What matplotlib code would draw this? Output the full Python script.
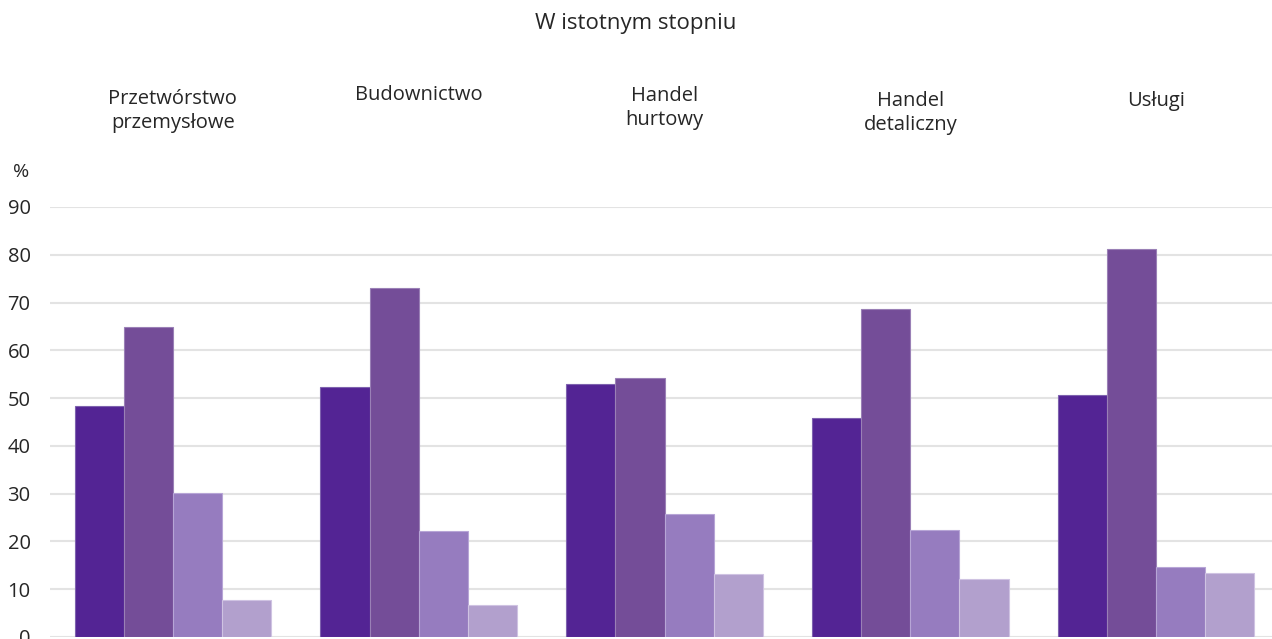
import matplotlib
matplotlib.use("Agg")
import matplotlib.pyplot as plt
import matplotlib.transforms as mtransforms
import numpy as np

plt.rcParams['font.family'] = ['Open Sans', 'DejaVu Sans']

title = "W istotnym stopniu"
categories = ["Przetwórstwo\nprzemysłowe", "Budownictwo", "Handel\nhurtowy", "Handel\ndetaliczny", "Usługi"]
series1 = [48.3, 52.3, 52.9, 45.9, 50.6]
series2 = [64.9, 73.0, 54.2, 68.6, 81.3]
series3 = [30.2, 22.1, 25.8, 22.4, 14.7]
series4 = [7.7, 6.8, 13.1, 12.1, 13.5]
yticks = [0, 10, 20, 30, 40, 50, 60, 70, 80, 90]

colors = ["#532494", "#744D98", "#967CBF", "#B2A0CD"]
edgecolors = ["#7E62AE", "#9A80B6", "#B7A5D6", "#CFC3E2"]
label_y_px = [111, 95, 108, 113, 101]  # vertical centre of each category caption (px from top)

W, H = 1272, 639
fig = plt.figure(figsize=(W / 100, H / 100), dpi=100)
ax_left, ax_right, ax_top, ax_bottom = 50, 1279, 207, 637
ax = fig.add_axes([ax_left / W, (H - ax_bottom) / H, (ax_right - ax_left) / W, (ax_bottom - ax_top) / H])

x = np.arange(len(categories))
n = 4
bw = 0.2
for i, (vals, c, ec) in enumerate(zip([series1, series2, series3, series4], colors, edgecolors)):
    ax.bar(x + (i - (n - 1) / 2) * bw, vals, width=bw, color=c, edgecolor=ec, linewidth=0.8, zorder=3)

ax.set_xlim(-0.5, len(categories) - 0.5)
ax.set_ylim(0, 90)
ax.set_yticks(yticks)
ax.set_xticks([])
ax.grid(axis='y', color='#E3E3E3', linewidth=1.5, zorder=0)
for s in ax.spines.values():
    s.set_visible(False)
ax.tick_params(axis='y', length=0, pad=14, labelsize=14.5, labelcolor='#262626')

trans = mtransforms.blended_transform_factory(ax.transData, fig.transFigure)
for xi, cat, ypx in zip(x, categories, label_y_px):
    ax.text(xi, 1 - ypx / H, cat, transform=trans, ha='center', va='center',
            fontsize=14.5, color='#262626', linespacing=1.3)

fig.text(636 / W, 1 - 24 / H, title, ha='center', va='center', fontsize=16, color='#262626')
fig.text(21 / W, 1 - 172 / H, "%", ha='center', va='center', fontsize=14, color='#262626')

fig.savefig("out.png", dpi=100)
